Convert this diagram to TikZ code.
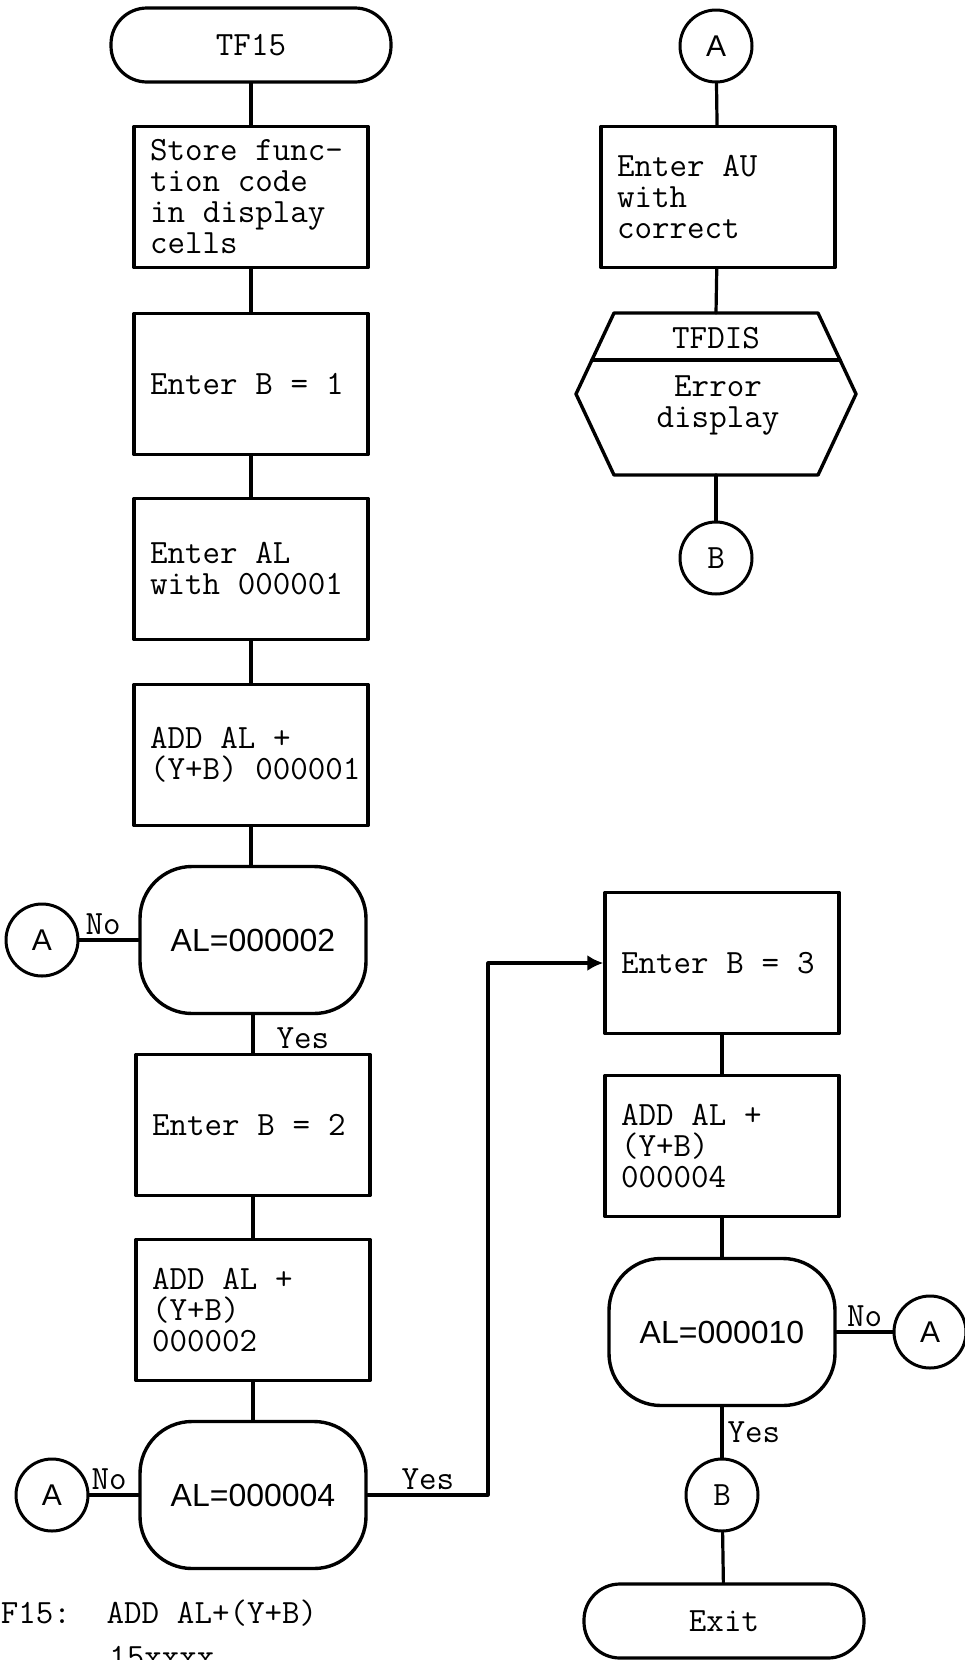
\documentclass[tikz,border=0pt]{standalone}
\usepackage{fontspec}
\setmainfont{Liberation Serif}
\setsansfont{Liberation Sans}
\usetikzlibrary{arrows.meta,calc,positioning}
\newcommand{\typed}{\ttfamily\fontsize{17}{15.5}\selectfont}
\newcommand{\typedspace}{\spaceskip=0.525em\xspaceskip=0.525em\relax}
\tikzset{
  >={Latex[length=8pt,width=8pt]},
  every picture/.style={line cap=round, line join=round},
  flowline/.style={line width=1.6pt},
  txt/.style={font=\typed, execute at begin node=\typedspace},
  lbl/.style={txt, inner sep=2pt},
  terminal/.style={txt, draw, line width=1.6pt, minimum width=140pt,
    minimum height=37pt, rounded corners=18pt},
  stepbox/.style={txt, draw, line width=1.7pt, minimum width=117pt,
    minimum height=70.5pt, text width=101pt, inner xsep=8pt, align=left},
  decision/.style={font=\sffamily\fontsize{16}{17}\selectfont, draw,
    line width=1.7pt, minimum width=113pt, minimum height=73.5pt,
    rounded corners=26pt},
  connector/.style={draw, circle, line width=1.5pt, minimum size=36pt,
    inner sep=0pt, font=\sffamily\fontsize{15}{15}\selectfont},
}

\begin{document}
\begin{tikzpicture}[x=0.5pt, y=-0.5pt]
\useasboundingbox (0,0) rectangle (964,1660);
% main column
\node[terminal] (tf15) at (251,45) {TF15};
\node[stepbox] (store) at (251,197) {Store func-\\tion code\\in display\\cells};
\node[stepbox] (setb1) at (251,384) {Enter B = 1};
\node[stepbox] (setal) at (251,569) {Enter AL\\with 000001};
\node[stepbox] (add1) at (251,755) {ADD AL +\\(Y+B)~000001};
\node[decision] (dec1) at (253,940) {AL=000002};
\node[stepbox] (setb2) at (253,1125) {Enter B = 2};
\node[stepbox] (add2) at (253,1310) {ADD AL +\\(Y+B)\\000002};
\node[decision] (dec2) at (253,1495) {AL=000004};
\node[connector] (errA1) at (42,940) {A};
\node[connector] (errA2) at (52,1495) {A};
\draw[flowline] (tf15) -- (store);
\draw[flowline] (store) -- (setb1);
\draw[flowline] (setb1) -- (setal);
\draw[flowline] (setal) -- (add1);
\draw[flowline] (add1.south) -- (add1.south |- dec1.north);
\draw[flowline] (dec1) -- node[lbl, right, xshift=9pt, yshift=-2pt]{Yes} (setb2);
\draw[flowline] (setb2) -- (add2);
\draw[flowline] (add2) -- (dec2);
\draw[flowline] (errA1) -- node[lbl, above, pos=0.4]{No} (dec1);
\draw[flowline] (errA2) -- node[lbl, above, pos=0.4]{No} (dec2);
% second column
\coordinate (turn) at (488,1495);
\node[stepbox] (setb3) at (722,963) {Enter B = 3};
\node[stepbox] (add4) at (722,1146) {ADD AL +\\(Y+B)\\000004};
\node[decision] (dec3) at (722,1332) {AL=000010};
\node[connector, font=\typed] (doneB) at (722,1495) {B};
\node[terminal] (exit) at (724,1621) {Exit};
\node[connector] (errA3) at (930,1332) {A};
\draw[flowline, ->] (dec2.east) -- node[lbl, above]{Yes} (turn) |- (setb3);
\draw[flowline] (setb3) -- (add4);
\draw[flowline] (add4) -- (dec3);
\draw[flowline] (dec3) -- node[lbl, right]{Yes} (doneB);
\draw[flowline] (doneB) -- (exit);
\draw[flowline] (dec3) -- node[lbl, above]{No} (errA3);
% error branch
\node[connector] (entryA) at (716,46) {A};
\node[stepbox] (setau) at (718,197) {Enter AU\\with\\correct};
\coordinate (hexT) at (716,313);
\coordinate (hexB) at (716,475);
\draw[line width=1.7pt] (614,313) coordinate (htl) -- (818,313) coordinate (htr)
  -- (856,394) coordinate (hr) -- (818,475) -- (614,475) -- (576,394) coordinate (hl) -- cycle;
\draw[line width=1.7pt] ($(htl)!0.58!(hl)$) -- ($(htr)!0.58!(hr)$);
\node[txt] (tfdis) at (716,338) {TFDIS};
\node[txt, align=center] (errdisp) at (718,405) {Error\\display};
\node[connector, font=\typed] (backB) at (716,558) {B};
\draw[flowline] (entryA) -- (setau);
\draw[flowline] (setau) -- (hexT);
\draw[flowline] (hexB) -- (backB);
% note under the chart
\node[txt, anchor=base west, inner sep=0pt] (note1) at (-17,1623) {TF15:~~ADD AL+(Y+B)};
\node[txt, anchor=base west, inner sep=0pt] (note2) at (109,1667) {15xxxx};
\end{tikzpicture}
\end{document}
